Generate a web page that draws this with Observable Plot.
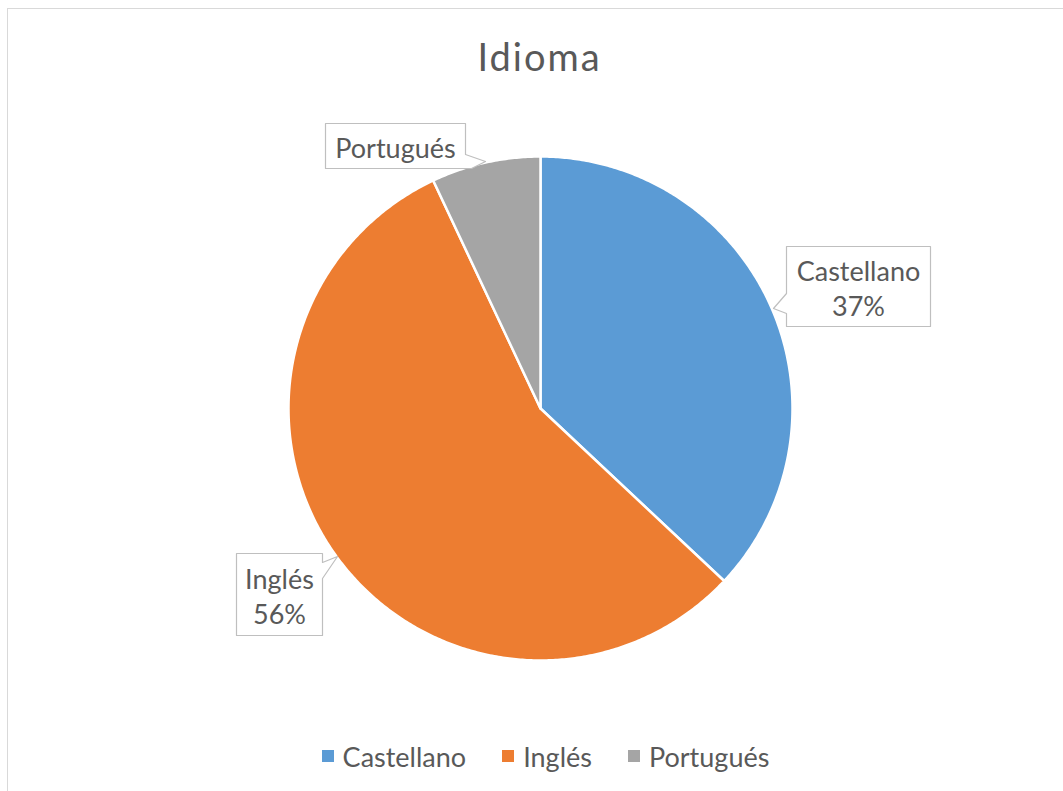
<!DOCTYPE html>
<html><head><meta charset="utf-8">
<script src="https://cdn.jsdelivr.net/npm/d3@7"></script>
<script src="https://cdn.jsdelivr.net/npm/@observablehq/plot@0.6"></script>
<style>
body{margin:0;background:#fff;font-family:Lato,"Open Sans",sans-serif;color:#595959;}
#wrap{position:relative;width:1063px;height:791px;overflow:hidden;}
#frame{position:absolute;left:7px;top:8px;width:1080px;height:810px;border:1px solid #d9d9d9;box-sizing:border-box;}
#title{position:absolute;left:16px;right:0;top:0;height:110px;display:flex;align-items:center;justify-content:center;font-size:38px;letter-spacing:2px;padding-top:2px;box-sizing:border-box;}
#chart{position:absolute;left:0;top:110px;}
#legend{position:absolute;left:28px;right:0;top:730px;height:52px;display:flex;align-items:center;justify-content:center;font-size:27px;}
.item{display:flex;align-items:center;margin:0 18px;}
.sw{width:12px;height:12px;margin-right:9px;}
</style></head>
<body><div id="wrap"><div id="frame"></div><div id="title"></div><div id="chart"></div><div id="legend"></div></div>
<script>
const titleText = "Idioma";
const categories = ["Castellano", "Inglés", "Portugués"];
const shares = [37, 56, 7];
const colors = ["#5B9BD5", "#ED7D31", "#A5A5A5"];
const showPercent = [true, true, false];

// layout (pixels in the SVG)
const W = 1063, H = 610;
const cx = 540, cy = 298, R = 252;
const boxes = {
  "Castellano": {x0: 786, y0: 136, x1: 930, y1: 216, side: "left", b0: 183, b1: 203, tx: 773, ty: 198},
  "Inglés": {x0: 236, y0: 443, x1: 322, y1: 525, side: "right", b0: 452, b1: 468, tx: 337, ty: 446},
  "Portugués": {x0: 325, y0: 13, x1: 465, y1: 58, side: "corner", b0: 44, b1: 471, tx: 485, ty: 51}
};

document.getElementById("title").textContent = titleText;

const total = d3.sum(shares);
const wedgePts = [];
let acc = 0;
categories.forEach((c, i) => {
  const a0 = acc / total * 2 * Math.PI;
  acc += shares[i];
  const a1 = acc / total * 2 * Math.PI;
  wedgePts.push({name: c, x: cx, y: cy});
  const n = Math.max(4, Math.ceil((a1 - a0) / (Math.PI / 360)));
  for (let k = 0; k <= n; k++) {
    const a = a0 + (a1 - a0) * k / n;
    wedgePts.push({name: c, x: cx + R * Math.sin(a), y: cy - R * Math.cos(a)});
  }
  wedgePts.push({name: c, x: cx, y: cy});
});

const boxPts = [];
const labels = [];
categories.forEach((c, i) => {
  const b = boxes[c];
  let poly;
  if (b.side === "left") {
    poly = [[b.x0, b.y0], [b.x1, b.y0], [b.x1, b.y1], [b.x0, b.y1], [b.x0, b.b1], [b.tx, b.ty], [b.x0, b.b0], [b.x0, b.y0]];
  } else if (b.side === "right") {
    poly = [[b.x0, b.y0], [b.x1, b.y0], [b.x1, b.b0], [b.tx, b.ty], [b.x1, b.b1], [b.x1, b.y1], [b.x0, b.y1], [b.x0, b.y0]];
  } else {
    poly = [[b.x0, b.y0], [b.x1, b.y0], [b.x1, b.b0], [b.tx, b.ty], [b.b1, b.y1], [b.x0, b.y1], [b.x0, b.y0]];
  }
  poly.forEach(([x, y]) => boxPts.push({name: c, x, y}));
  labels.push({
    name: c,
    text: showPercent[i] ? `${c}\n${Math.round(shares[i] / total * 100)}%` : c,
    x: (b.x0 + b.x1) / 2,
    y: (b.y0 + b.y1) / 2 + 1
  });
});

const chart = Plot.plot({
  width: W, height: H, margin: 0,
  x: {domain: [0, W], range: [0, W], axis: null},
  y: {domain: [0, H], range: [0, H], axis: null},
  color: {domain: categories, range: colors},
  style: {background: "transparent", fontFamily: "Lato, sans-serif"},
  marks: [
    Plot.line(wedgePts, {x: "x", y: "y", z: "name", fill: "name", stroke: "white", strokeWidth: 2.5, strokeLinejoin: "round", curve: "linear"}),
    Plot.line(boxPts, {x: "x", y: "y", z: "name", fill: "white", stroke: "#bfbfbf", strokeWidth: 1.2, curve: "linear"}),
    Plot.text(labels, {x: "x", y: "y", text: "text", fontSize: 27, lineHeight: 1.3, fill: "#595959", textAnchor: "middle"})
  ]
});
document.getElementById("chart").appendChild(chart);

const legend = document.getElementById("legend");
categories.forEach((c, i) => {
  const it = document.createElement("div");
  it.className = "item";
  const sw = document.createElement("div");
  sw.className = "sw";
  sw.style.background = colors[i];
  const t = document.createElement("span");
  t.textContent = c;
  it.appendChild(sw); it.appendChild(t);
  legend.appendChild(it);
});
</script></body></html>
